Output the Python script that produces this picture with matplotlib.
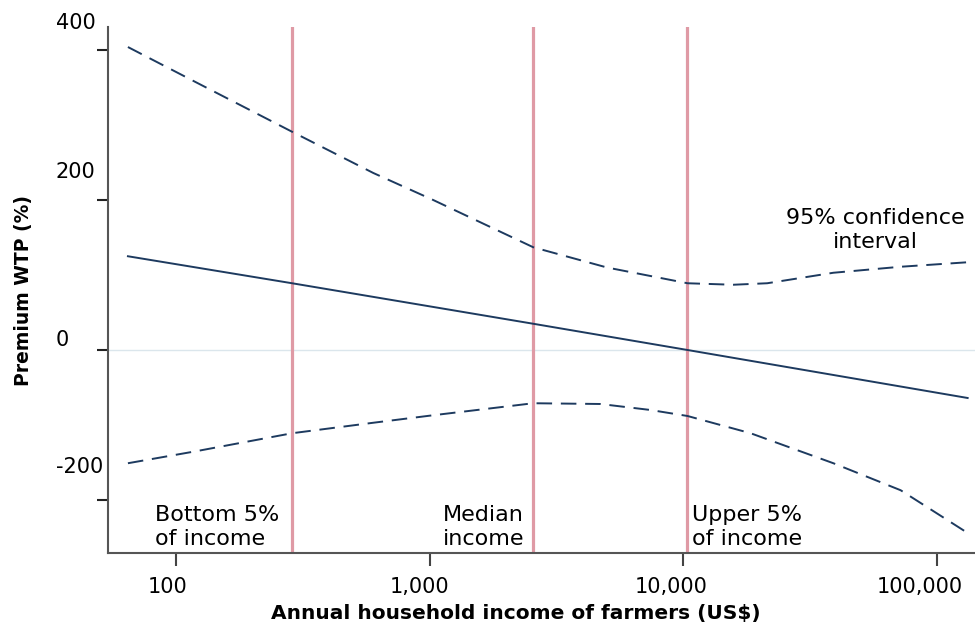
import matplotlib
matplotlib.use("Agg")
import matplotlib.pyplot as plt
import matplotlib.transforms as mtransforms

# ---- data ----
fit_x = [64.7, 287, 2560, 10380, 131900]
fit_y = [125, 89, 35, 0, -64]

upper_x = [64.7, 120, 287, 600, 1033, 2560, 5000, 10380, 15700, 21400, 39000, 71800, 131900]
upper_y = [404, 357, 291, 236, 200, 137, 110, 89, 87, 89, 103, 111, 117]

lower_x = [64.7, 120, 287, 600, 1033, 2560, 4710, 7420, 10380, 18400, 39000, 71800, 131900]
lower_y = [-151, -135, -111, -97, -87, -71, -72, -80, -88, -111, -151, -187, -244]

ref_lines = [287, 2546, 10370]
ref_labels = ["Bottom 5%\nof income", "Median\nincome", "Upper 5%\nof income"]

x_ticks = [100, 1000, 10000, 100000]
x_ticklabels = ["100", "1,000", "10,000", "100,000"]
x_label_shift_px = [-8, -10, -12, -17]
y_ticks = [400, 200, 0, -200]
y_ticklabels = ["400", "200", "0", "-200"]
y_label_offsets_px = [27, 28, 10, 33]

navy = "#1d3a5f"
pink = "#df9aa5"

fig = plt.figure(figsize=(9.75, 6.27), dpi=100)
ax = fig.add_axes([108/975, 74/627, 867/975, 526/627])

ax.set_xscale("log")
ax.set_xlim(54, 141000)
ax.set_ylim(-270.7, 430.7)

ax.axhline(0, color="#dbe6ec", lw=1, zorder=1)
for xv in ref_lines:
    ax.axvline(xv, color=pink, lw=2.3, zorder=2)

dash = (0, (8, 4.5))
ax.plot(fit_x, fit_y, color=navy, lw=1.4, zorder=3)
ax.plot(upper_x, upper_y, color=navy, lw=1.4, ls=dash, zorder=3)
ax.plot(lower_x, lower_y, color=navy, lw=1.4, ls=dash, zorder=3)

for sp in ["top", "right"]:
    ax.spines[sp].set_visible(False)
for sp in ["left", "bottom"]:
    ax.spines[sp].set_color("#555555")
    ax.spines[sp].set_linewidth(1.5)

ax.set_xticks(x_ticks)
ax.set_xticklabels(x_ticklabels, fontsize=15)
ax.xaxis.set_minor_locator(matplotlib.ticker.NullLocator())
ax.tick_params(axis="x", length=9, width=1.5, color="#444444", pad=8)
for lab, dx in zip(ax.get_xticklabels(), x_label_shift_px):
    lab.set_transform(lab.get_transform() +
                      mtransforms.Affine2D().translate(dx, 0))

ax.set_yticks(y_ticks)
ax.set_yticklabels([""] * len(y_ticks))
ax.tick_params(axis="y", length=8, width=1.5, color="#222222")
trans = mtransforms.blended_transform_factory(ax.transAxes, ax.transData)
for v, lab, off in zip(y_ticks, y_ticklabels, y_label_offsets_px):
    ax.annotate(lab, xy=(-0.06, v), xycoords=trans, xytext=(0, off),
                textcoords="offset pixels", ha="left", va="center", fontsize=15)

ax.set_xlabel("Annual household income of farmers (US$)", fontsize=14.5,
              fontweight="bold")
ax.xaxis.set_label_coords(0.47, -0.097)
ax.set_ylabel("Premium WTP (%)", fontsize=13.5, fontweight="bold")
ax.yaxis.set_label_coords(-0.087, 0.50)

# annotations
yc = 1 - 527/627
for xp, lab in zip([155, 443, 692], ref_labels):
    ax.text(xp/975, yc, lab, transform=fig.transFigure, fontsize=16,
            ha="left", va="center", linespacing=1.2)
ax.text(875/975, 1 - 230/627, "95% confidence\ninterval", transform=fig.transFigure,
        fontsize=16, ha="center", va="center", linespacing=1.2)

fig.savefig("out.png", dpi=100)
